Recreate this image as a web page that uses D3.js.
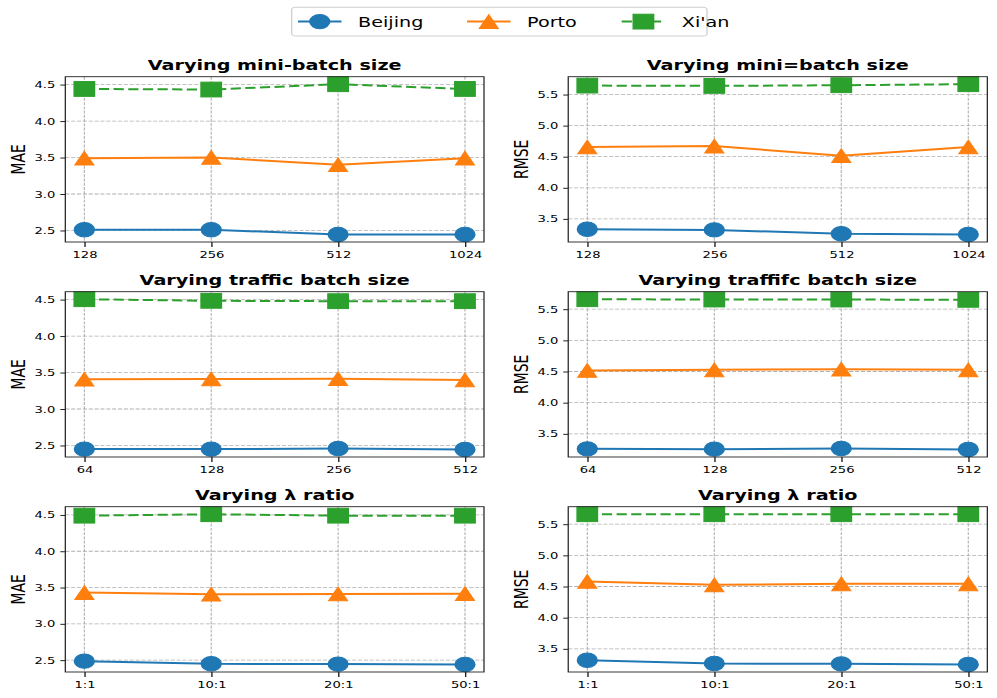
<!DOCTYPE html>
<meta charset="utf-8">
<html lang="en">
  <head>
    <style>
      body { margin: 0; background-color: #fff; }
      text { font-family: "DejaVu Sans", sans-serif; fill: #000; }
      .grid line { stroke: #b0b0b0; stroke-width: 0.8px; stroke-dasharray: 2.96 1.28; }
      .axis path, .axis line { stroke: #222; }
      .axis text { font-size: 9.5px; }
      .title { font-size: 13.9px; font-weight: bold; }
      .ylabel { font-size: 13.9px; }
    </style>
  </head>
  <body>
    <script src="https://cdn.jsdelivr.net/npm/d3@7"></script>
    <svg></svg>
    <script>

      // --- data ---
      var cities = ["Beijing", "Porto", "Xi'an"];
      var colors = ["#1f77b4", "#ff7f0e", "#2ca02c"];

      var batchSizes = ["128", "256", "512", "1024"];
      var trafficSizes = ["64", "128", "256", "512"];
      var lambdaRatios = ["1:1", "10:1", "20:1", "50:1"];

      // rows: Beijing, Porto, Xi'an
      var maeBatch = [[2.51, 2.51, 2.445, 2.445], [3.49, 3.50, 3.40, 3.49], [4.44, 4.432, 4.505, 4.44]];
      var rmseBatch = [[3.334, 3.323, 3.26, 3.249], [4.655, 4.671, 4.516, 4.655], [5.644, 5.639, 5.65, 5.666]];
      var maeTraffic = [[2.45, 2.45, 2.459, 2.445], [3.407, 3.411, 3.416, 3.397], [4.505, 4.483, 4.478, 4.478]];
      var rmseTraffic = [[3.259, 3.254, 3.265, 3.249], [4.516, 4.527, 4.537, 4.527], [5.66, 5.655, 5.655, 5.65]];
      var maeLambda = [[2.486, 2.45, 2.445, 2.44], [3.43, 3.407, 3.411, 3.416], [4.49, 4.51, 4.49, 4.49]];
      var rmseLambda = [[3.318, 3.265, 3.259, 3.249], [4.58, 4.527, 4.543, 4.543], [5.66, 5.66, 5.66, 5.66]];

      var panels = [
        { title: "Varying mini-batch size", ylab: "MAE", cats: batchSizes, vals: maeBatch },
        { title: "Varying mini=batch size", ylab: "RMSE", cats: batchSizes, vals: rmseBatch },
        { title: "Varying traffic batch size", ylab: "MAE", cats: trafficSizes, vals: maeTraffic },
        { title: "Varying traffifc batch size", ylab: "RMSE", cats: trafficSizes, vals: rmseTraffic },
        { title: "Varying \u03bb ratio", ylab: "MAE", cats: lambdaRatios, vals: maeLambda },
        { title: "Varying \u03bb ratio", ylab: "RMSE", cats: lambdaRatios, vals: rmseLambda }
      ];

      // the reference is horizontally stretched, so draw in a narrower box and stretch it
      var W = 722, H = 698;
      var svg = d3.select("svg")
        .attr("width", 997)
        .attr("height", 698)
        .attr("viewBox", "0 0 " + W + " " + H)
        .attr("preserveAspectRatio", "none");

      var cols = [[47.3, 350.5], [411.5, 715]];
      var rowTops = [76.7, 291.7, 506.7];
      var ph = 165.3;

      var symbols = [d3.symbolCircle, d3.symbolTriangle, d3.symbolSquare];

      function marker(g, i, x, y) {
        var c = colors[i];
        if (i == 0) {
          g.append("circle").attr("cx", x).attr("cy", y).attr("r", 7.2)
            .attr("fill", c).attr("stroke", c).attr("stroke-width", 1);
        } else if (i == 1) {
          var s = 6.8;
          g.append("path")
            .attr("d", "M" + x + "," + (y - s) + "L" + (x + s) + "," + (y + s) + "L" + (x - s) + "," + (y + s) + "Z")
            .attr("fill", c).attr("stroke", c).attr("stroke-width", 1);
        } else {
          var h = 7.4;
          g.append("rect").attr("x", x - h).attr("y", y - h).attr("width", 2 * h).attr("height", 2 * h)
            .attr("fill", c).attr("stroke", c).attr("stroke-width", 1);
        }
      }

      panels.forEach(function(p, k) {
        var x0 = cols[k % 2][0], x1 = cols[k % 2][1];
        var y0 = rowTops[Math.floor(k / 2)], y1 = y0 + ph;

        var all = d3.merge(p.vals);
        var lo = d3.min(all), hi = d3.max(all), pad = (hi - lo) * 0.05;

        var xScale = d3.scaleLinear().domain([-0.15, 3.15]).range([x0, x1]);
        var yScale = d3.scaleLinear().domain([lo - pad, hi + pad]).range([y1, y0]);
        var yTicks = yScale.ticks(5);

        var g = svg.append("g");

        // grid
        var grid = g.append("g").attr("class", "grid");
        grid.selectAll(".h").data(yTicks).enter().append("line")
          .attr("x1", x0).attr("x2", x1)
          .attr("y1", function(d) { return yScale(d); })
          .attr("y2", function(d) { return yScale(d); });
        grid.selectAll(".v").data(p.cats).enter().append("line")
          .attr("y1", y0).attr("y2", y1)
          .attr("x1", function(d, i) { return xScale(i); })
          .attr("x2", function(d, i) { return xScale(i); });

        // series
        p.vals.forEach(function(vals, i) {
          var line = d3.line()
            .x(function(d, j) { return xScale(j); })
            .y(function(d) { return yScale(d); });
          g.append("path").datum(vals)
            .attr("d", line)
            .attr("fill", "none")
            .attr("stroke", colors[i])
            .attr("stroke-width", 2)
            .attr("stroke-dasharray", i == 2 ? "7.4 3.2" : null);
          vals.forEach(function(v, j) { marker(g, i, xScale(j), yScale(v)); });
        });

        // frame
        g.append("rect")
          .attr("x", x0).attr("y", y0).attr("width", x1 - x0).attr("height", y1 - y0)
          .attr("fill", "none").attr("stroke", "#222").attr("stroke-width", 0.9);

        // axes
        var yAxis = d3.axisLeft(yScale).tickValues(yTicks).tickFormat(d3.format(".1f"))
          .tickSize(3.6).tickPadding(3.6);
        g.append("g").attr("class", "axis").attr("transform", "translate(" + x0 + ",0)")
          .call(yAxis).call(function(a) { a.select(".domain").remove(); });

        var xAxis = d3.axisBottom(xScale).tickValues([0, 1, 2, 3])
          .tickFormat(function(d) { return p.cats[d]; })
          .tickSize(5).tickPadding(4.2);
        g.append("g").attr("class", "axis").attr("transform", "translate(0," + y1 + ")")
          .call(xAxis).call(function(a) { a.select(".domain").remove(); });

        // title & y label
        g.append("text").attr("class", "title")
          .attr("x", (x0 + x1) / 2).attr("y", y0 - 6.5)
          .attr("text-anchor", "middle").text(p.title);
        g.append("text").attr("class", "ylabel")
          .attr("transform", "translate(" + (x0 - 29) + "," + ((y0 + y1) / 2) + ") rotate(-90)")
          .attr("text-anchor", "middle").text(p.ylab);
      });

      // legend
      var leg = svg.append("g");
      leg.append("rect")
        .attr("x", 211.2).attr("y", 7.3).attr("width", 300.8).attr("height", 28.7)
        .attr("rx", 2.5).attr("fill", "#fff").attr("stroke", "#d0d0d0").attr("stroke-width", 1);
      var legX = [215.8, 338.2, 450.2];
      cities.forEach(function(c, i) {
        var lx = legX[i], ly = 21.6;
        leg.append("line")
          .attr("x1", lx).attr("x2", lx + 31.5).attr("y1", ly).attr("y2", ly)
          .attr("stroke", colors[i]).attr("stroke-width", 2)
          .attr("stroke-dasharray", i == 2 ? "7.4 3.2" : null);
        marker(leg, i, lx + 15.75, ly);
        leg.append("text")
          .attr("x", lx + 43.5).attr("y", ly)
          .attr("dy", "0.36em")
          .style("font-size", "13.9px")
          .text(c);
      });

    </script>
  </body>
</html>
